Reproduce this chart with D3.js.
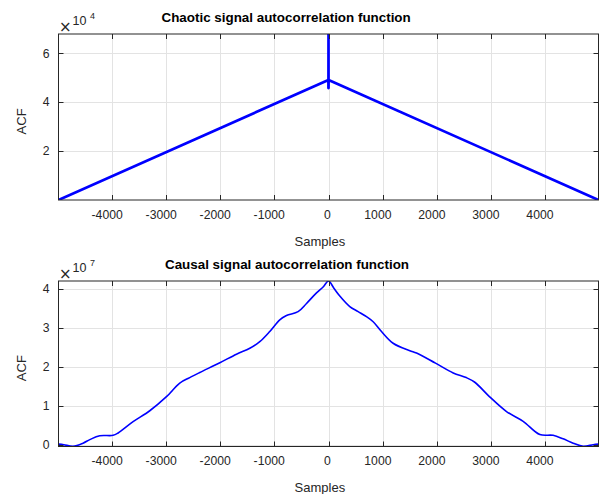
<!DOCTYPE html>
<html>
<head>
<meta charset="utf-8">
<script src="https://cdn.jsdelivr.net/npm/d3@7"></script>
<style>
  body { margin: 0; background: #fff; }
  svg { display: block; font-family: "Liberation Sans", Arial, Helvetica, sans-serif; }
</style>
</head>
<body>
<div id="chart"></div>
<script>
// --- data ---
var xTicks = [-4000, -3000, -2000, -1000, 0, 1000, 2000, 3000, 4000];
var lagRange = [-4999, 4999];

// chaotic signal ACF (values x 1e4): noisy triangle plus the lag-0 spike
var chaoticLags = [-4999, -2, -1, 0, 1, 2, 4999];
var chaoticAcf  = [0, 4.91, 4.58, 6.79, 4.58, 4.91, 0];
var chaoticYTicks = [2, 4, 6];
var chaoticYRange = [0, 6.79];

// causal signal ACF (values x 1e7)
var causalLags = [-4999, -4900, -4730, -4544, -4420, -4235, -3989, -3896, -3618, -3309,
  -3000, -2754, -2569, -2383, -2012, -1704, -1457, -1272, -1087, -902, -778, -563, -407,
  -222, -100, 0, 100, 209, 394, 549, 703, 827, 981, 1196, 1506, 1630, 1981, 2309, 2550,
  2709, 2974, 3296, 3604, 3913, 4159, 4344, 4530, 4715, 4900, 4999];
var causalAcf = [0.026, 0.01, -0.03, 0.05, 0.14, 0.24, 0.25, 0.31, 0.60, 0.88,
  1.24, 1.59, 1.73, 1.86, 2.11, 2.33, 2.48, 2.65, 2.91, 3.21, 3.32, 3.42, 3.63,
  3.90, 4.05, 4.205, 4.02, 3.82, 3.55, 3.42, 3.29, 3.16, 2.91, 2.61, 2.42, 2.36, 2.10, 1.85, 1.73,
  1.61, 1.25, 0.86, 0.61, 0.27, 0.25, 0.16, 0.05, -0.03, 0.01, 0.026];
var causalYTicks = [0, 1, 2, 3, 4];
var causalYRange = [-0.036, 4.205];

var width = 605, height = 494;
var svg = d3.select("#chart").append("svg")
    .attr("width", width)
    .attr("height", height);

var textColor = "#262626";

// MATLAB's text here sits left of its anchor by ~17% of its width
function placeCentered(sel, c) {
  var w = sel.node().getComputedTextLength();
  sel.attr("x", c - 0.67 * w);
}

function drawPanel(p) {
  var x = d3.scaleLinear().domain(lagRange).range([58.5, 598.5]);
  var y = d3.scaleLinear().domain(p.yRange).range([p.bottom, p.top]);
  var g = svg.append("g");
  var tickLen = 5;

  // grid
  g.selectAll(".vgrid").data(xTicks).enter().append("line")
      .attr("x1", function(d) { return Math.round(x(d)) + 0.5; })
      .attr("x2", function(d) { return Math.round(x(d)) + 0.5; })
      .attr("y1", p.top).attr("y2", p.bottom)
      .attr("stroke", "#e3e3e3");
  g.selectAll(".hgrid").data(p.yTicks).enter().append("line")
      .attr("y1", function(d) { return Math.round(y(d)) + 0.5; })
      .attr("y2", function(d) { return Math.round(y(d)) + 0.5; })
      .attr("x1", x.range()[0]).attr("x2", x.range()[1])
      .attr("stroke", "#e3e3e3");

  // data line
  var clipId = "clip" + p.id;
  svg.append("clipPath").attr("id", clipId).append("rect")
      .attr("x", x.range()[0]).attr("y", p.top)
      .attr("width", x.range()[1] - x.range()[0])
      .attr("height", p.bottom - p.top);
  var pts = p.lags.map(function(d, i) { return [d, p.values[i]]; });
  g.append("path")
      .datum(pts)
      .attr("clip-path", "url(#" + clipId + ")")
      .attr("fill", "none")
      .attr("stroke", "#0000ff")
      .attr("stroke-width", p.lineWidth)
      .attr("stroke-linejoin", "round")
      .attr("d", d3.line()
          .curve(p.curve)
          .x(function(d) { return x(d[0]); })
          .y(function(d) { return y(d[1]); }));

  // box
  g.append("rect")
      .attr("x", x.range()[0]).attr("y", p.top)
      .attr("width", x.range()[1] - x.range()[0])
      .attr("height", p.bottom - p.top)
      .attr("fill", "none")
      .attr("stroke", textColor);

  // ticks (inside, all four sides)
  xTicks.forEach(function(d) {
    var xx = Math.round(x(d)) + 0.5;
    g.append("line").attr("x1", xx).attr("x2", xx)
        .attr("y1", p.bottom).attr("y2", p.bottom - tickLen).attr("stroke", textColor);
    g.append("line").attr("x1", xx).attr("x2", xx)
        .attr("y1", p.top).attr("y2", p.top + tickLen).attr("stroke", textColor);
  });
  p.yTicks.forEach(function(d) {
    var yy = Math.round(y(d)) + 0.5;
    g.append("line").attr("y1", yy).attr("y2", yy)
        .attr("x1", x.range()[0]).attr("x2", x.range()[0] + tickLen).attr("stroke", textColor);
    g.append("line").attr("y1", yy).attr("y2", yy)
        .attr("x1", x.range()[1]).attr("x2", x.range()[1] - tickLen).attr("stroke", textColor);
  });

  // tick labels
  xTicks.forEach(function(d) {
    var t = g.append("text")
        .attr("y", p.bottom + 18.7)
        .attr("font-size", "12.2px")
        .attr("fill", textColor)
        .text(d);
    placeCentered(t, x(d));
  });
  p.yTicks.forEach(function(d) {
    g.append("text")
        .attr("x", 49.5)
        .attr("y", y(d))
        .attr("dy", "0.35em")
        .attr("text-anchor", "end")
        .attr("font-size", "12.2px")
        .attr("fill", textColor)
        .text(d);
  });

  // exponent
  g.append("text").attr("x", 59).attr("y", p.top - 2)
      .attr("font-family", "DejaVu Sans")
      .attr("font-size", "15px").attr("fill", textColor).text("\u00d7");
  g.append("text").attr("x", 72.5).attr("y", p.top - 9)
      .attr("font-size", "12.5px").attr("fill", textColor).text("10");
  g.append("text").attr("x", 90).attr("y", p.top - 15.5)
      .attr("font-size", "9px").attr("fill", textColor).text(p.exponent);

  // title
  var title = g.append("text")
      .attr("y", p.top - 12.3)
      .attr("font-size", "13.4px")
      .attr("font-weight", "bold")
      .attr("fill", "#000")
      .text(p.title);
  placeCentered(title, 328.5);

  // axis labels
  var xl = g.append("text")
      .attr("y", p.bottom + 45.5)
      .attr("font-size", "13px")
      .attr("fill", textColor)
      .text("Samples");
  placeCentered(xl, 328.5);

  var yl = g.append("text")
      .attr("transform", "translate(26,0) rotate(-90)")
      .attr("font-size", "13px")
      .attr("fill", textColor)
      .text("ACF");
  var w = yl.node().getComputedTextLength();
  yl.attr("x", -((p.top + p.bottom) / 2 + 0.67 * w));
}

drawPanel({
  id: 1, top: 34, bottom: 200,
  lags: chaoticLags, values: chaoticAcf,
  yTicks: chaoticYTicks, yRange: chaoticYRange,
  exponent: "4", lineWidth: 2.7, curve: d3.curveLinear,
  title: "Chaotic signal autocorrelation function"
});

drawPanel({
  id: 2, top: 281, bottom: 446.5,
  lags: causalLags, values: causalAcf,
  yTicks: causalYTicks, yRange: causalYRange,
  exponent: "7", lineWidth: 1.6, curve: d3.curveCatmullRom.alpha(0.5),
  title: "Causal signal autocorrelation function"
});
</script>
</body>
</html>
